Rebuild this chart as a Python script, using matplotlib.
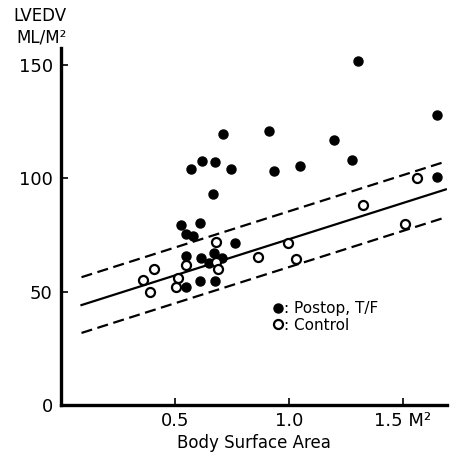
import matplotlib.pyplot as plt
from matplotlib.lines import Line2D
import numpy as np

# Postop T/F patients (filled circles)
postop_bsa = [1.303, 1.651, 0.711, 0.914, 1.199, 1.277, 0.569, 0.620, 0.676, 0.748,
              0.935, 1.049, 0.667, 1.651, 0.525, 0.609, 0.550, 0.578, 0.764, 0.547,
              0.616, 0.672, 0.650, 0.708, 0.610, 0.676, 0.547]
postop_vol = [151.8, 127.8, 119.6, 120.9, 117.1, 108.3, 104.1, 107.8, 107.4, 104.0,
              103.4, 105.5, 93.0, 100.5, 79.4, 80.2, 75.5, 74.6, 71.3, 65.9,
              65.0, 67.2, 62.8, 64.7, 54.7, 54.7, 52.2]

# Controls (open circles)
control_bsa = [1.563, 1.325, 1.509, 0.682, 0.995, 0.866, 1.032, 0.410, 0.360, 0.390,
               0.515, 0.507, 0.550, 0.679, 0.689]
control_vol = [100.0, 88.3, 79.7, 72.1, 71.6, 65.5, 64.3, 59.9, 55.2, 50.0,
               56.2, 51.9, 61.8, 63.2, 60.0]

# regression line of controls and its band
intercept = 41.2
slope = 31.9
band = 12.3
line_x = [0.09, 1.69]

fig = plt.figure(figsize=(4.57, 4.55), dpi=100)
ax = fig.add_axes([0.1335, 0.110, 0.8445, 0.7845])

lx = np.array(line_x)
ly = intercept + slope * lx
ax.plot(lx, ly, color='black', linewidth=1.6)
ax.plot(lx, ly + band, color='black', linewidth=1.6, linestyle=(0, (5, 2.5)))
ax.plot(lx, ly - band, color='black', linewidth=1.6, linestyle=(0, (5, 2.5)))

ax.plot(postop_bsa, postop_vol, 'o', color='black', markersize=6.5, linestyle='none')
ax.plot(control_bsa, control_vol, 'o', markerfacecolor='white', markeredgecolor='black',
        markeredgewidth=1.6, markersize=6.5, linestyle='none')

ax.set_xlim(0, 1.695)
ax.set_ylim(0, 157.5)

for s in ['top', 'right']:
    ax.spines[s].set_visible(False)
for s in ['left', 'bottom']:
    ax.spines[s].set_linewidth(2.4)

ax.set_xticks([0.5, 1.0, 1.5])
ax.set_xticklabels(['0.5', '1.0', '1.5 M²'])
ax.set_yticks([0, 50, 100, 150])
ax.set_yticklabels(['0', '50', '100', '150'])
ax.tick_params(direction='in', length=5, width=1.2, labelsize=13, pad=6)
ax.tick_params(axis='x', pad=5)

ax.set_xlabel('Body Surface Area', fontsize=12, labelpad=3)
fig.text(0.088, 0.965, 'LVEDV', fontsize=12, ha='center', va='center')
fig.text(0.090, 0.918, 'ML/M²', fontsize=12, ha='center', va='center')

handles = [
    Line2D([], [], marker='o', color='black', linestyle='none', markersize=6.5),
    Line2D([], [], marker='o', markerfacecolor='white', markeredgecolor='black',
           markeredgewidth=1.6, linestyle='none', markersize=6.5),
]
ax.legend(handles, [': Postop, T/F', ': Control'], loc='upper left',
          bbox_to_anchor=(0.515, 0.33), frameon=False, handlelength=0.6,
          handletextpad=0.1, labelspacing=0.12, fontsize=11)

fig.savefig('out.png', dpi=100)
